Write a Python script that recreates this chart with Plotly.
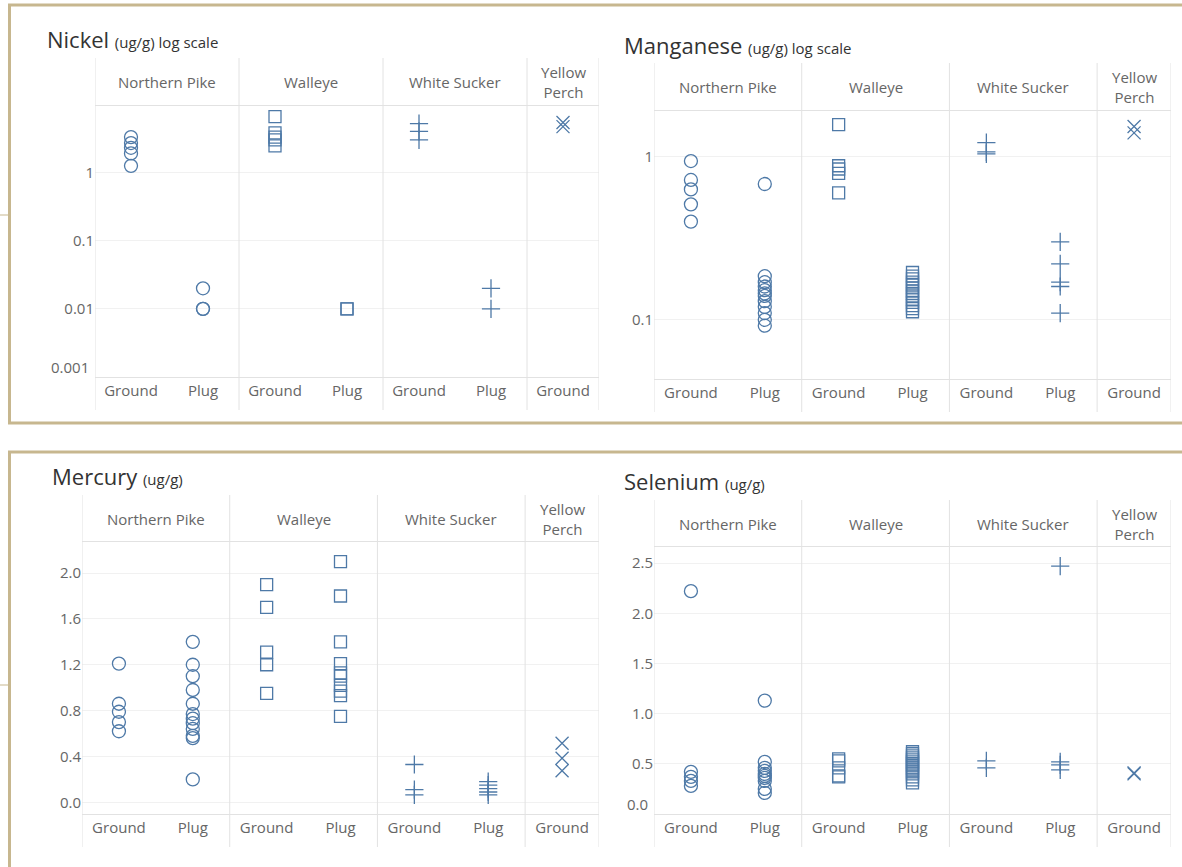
import plotly.graph_objects as go

W, H = 1182, 867

SPECIES = ["Northern Pike", "Walleye", "White Sucker", "Yellow<br>Perch"]
PREP = ["Ground", "Plug", "Ground", "Plug", "Ground", "Plug", "Ground"]

# Nickel (ug/g)
nickel_pike_ground = [3.3, 2.7, 2.3, 1.9, 1.25]
nickel_pike_plug = [0.02, 0.01, 0.01]
nickel_walleye_ground = [6.6, 3.8, 3.3, 3.0, 2.45]
nickel_walleye_plug = [0.01, 0.01]
nickel_sucker_ground = [5.2, 4.0, 3.0]
nickel_sucker_plug = [0.02, 0.01]
nickel_perch_ground = [5.4, 4.7]
nickel_ticks = [0.001, 0.01, 0.1, 1]
nickel_tick_text = ["0.001", "0.01", "0.1", "1"]

# Manganese (ug/g)
mn_pike_ground = [0.94, 0.72, 0.63, 0.51, 0.40]
mn_pike_plug = [0.68, 0.185, 0.17, 0.16, 0.152, 0.145, 0.14, 0.13, 0.12, 0.11, 0.10, 0.092]
mn_walleye_ground = [1.57, 0.88, 0.84, 0.79, 0.60]
mn_walleye_plug = [0.195, 0.185, 0.178, 0.17, 0.163, 0.157, 0.15, 0.145, 0.14,
                   0.134, 0.128, 0.122, 0.117, 0.112]
mn_sucker_ground = [1.22, 1.07, 1.04]
mn_sucker_plug = [0.30, 0.22, 0.17, 0.16, 0.11]
mn_perch_ground = [1.53, 1.40]
mn_ticks = [0.1, 1]
mn_tick_text = ["0.1", "1"]

# Mercury (ug/g)
hg_pike_ground = [1.21, 0.86, 0.79, 0.70, 0.62]
hg_pike_plug = [1.40, 1.20, 1.10, 0.98, 0.86, 0.77, 0.73, 0.69, 0.64, 0.58, 0.56, 0.20]
hg_walleye_ground = [1.90, 1.70, 1.31, 1.20, 0.95]
hg_walleye_plug = [2.10, 1.80, 1.40, 1.21, 1.13, 1.10, 1.02, 0.97, 0.93, 0.75]
hg_sucker_ground = [0.33, 0.11, 0.065]
hg_sucker_plug = [0.18, 0.15, 0.12, 0.09, 0.065]
hg_perch_ground = [0.515, 0.385, 0.275]
hg_ticks = [0.0, 0.4, 0.8, 1.2, 1.6, 2.0]
hg_tick_text = ["0.0", "0.4", "0.8", "1.2", "1.6", "2.0"]

# Selenium (ug/g)
se_pike_ground = [2.22, 0.42, 0.37, 0.33, 0.28]
se_pike_plug = [1.13, 0.52, 0.46, 0.43, 0.40, 0.38, 0.36, 0.33, 0.25, 0.21]
se_walleye_ground = [0.55, 0.53, 0.46, 0.38, 0.37]
se_walleye_plug = [0.62, 0.60, 0.58, 0.56, 0.54, 0.52, 0.50, 0.48, 0.46, 0.44,
                   0.42, 0.40, 0.37, 0.34, 0.31]
se_sucker_ground = [0.53, 0.46]
se_sucker_plug = [2.47, 0.52, 0.49, 0.44]
se_perch_ground = [0.41, 0.40]
se_ticks = [0.0, 0.5, 1.0, 1.5, 2.0, 2.5]
se_tick_text = ["0.0", "0.5", "1.0", "1.5", "2.0", "2.5"]

MARK = "#4e79a7"
GRID = "#f1f1f1"
RULE = "#e2e2e2"
FRAME = "#c7b78f"
FONT = "Open Sans"
SYMBOLS = ["circle-open", "square-open", "cross-thin-open", "x-thin-open"]


def fx(px):
    return px / W


def fy(py):
    return 1 - py / H


def columns(pike_g, pike_p, walleye_g, walleye_p, sucker_g, sucker_p, perch_g):
    # (column index, values, species index)
    return [(0, pike_g, 0), (1, pike_p, 0), (2, walleye_g, 1), (3, walleye_p, 1),
            (4, sucker_g, 2), (5, sucker_p, 2), (6, perch_g, 3)]


panels = [
    dict(name="Nickel", unit="(ug/g) log scale", log=True,
         cols=columns(nickel_pike_ground, nickel_pike_plug, nickel_walleye_ground,
                      nickel_walleye_plug, nickel_sucker_ground, nickel_sucker_plug,
                      nickel_perch_ground),
         left=95, right=599, top=106, bottom=377, head=58, foot=410,
         title=(45, 39), yrange=[-3.0, 0.975],
         ticks=nickel_ticks, tick_text=nickel_tick_text, lifted=0),
    dict(name="Manganese", unit="(ug/g) log scale", log=True,
         cols=columns(mn_pike_ground, mn_pike_plug, mn_walleye_ground, mn_walleye_plug,
                      mn_sucker_ground, mn_sucker_plug, mn_perch_ground),
         left=654, right=1171, top=111, bottom=379, head=63, foot=412,
         title=(622, 45), yrange=[-1.363, 0.28],
         ticks=mn_ticks, tick_text=mn_tick_text, lifted=None),
    dict(name="Mercury", unit="(ug/g)", log=False,
         cols=columns(hg_pike_ground, hg_pike_plug, hg_walleye_ground, hg_walleye_plug,
                      hg_sucker_ground, hg_sucker_plug, hg_perch_ground),
         left=82, right=599, top=542, bottom=814, head=495, foot=847,
         title=(50, 476), yrange=[-0.102, 2.271],
         ticks=hg_ticks, tick_text=hg_tick_text, lifted=None),
    dict(name="Selenium", unit="(ug/g)", log=False,
         cols=columns(se_pike_ground, se_pike_plug, se_walleye_ground, se_walleye_plug,
                      se_sucker_ground, se_sucker_plug, se_perch_ground),
         left=654, right=1171, top=547, bottom=814, head=500, foot=847,
         title=(622, 481), yrange=[0.0, 2.66],
         ticks=se_ticks, tick_text=se_tick_text, lifted=0),
]

fig = go.Figure()
shapes = []
annotations = []

# panel frames
shapes += [
    dict(type="rect", xref="paper", yref="paper", x0=fx(9.5), x1=fx(1200),
         y0=fy(5), y1=fy(423), line=dict(color=FRAME, width=3)),
    dict(type="rect", xref="paper", yref="paper", x0=fx(9.5), x1=fx(1200),
         y0=fy(452), y1=fy(900), line=dict(color=FRAME, width=3)),
    dict(type="line", xref="paper", yref="paper", x0=0, x1=fx(9), y0=fy(215), y1=fy(215),
         line=dict(color=FRAME, width=1)),
    dict(type="line", xref="paper", yref="paper", x0=0, x1=fx(9), y0=fy(685), y1=fy(685),
         line=dict(color=FRAME, width=1)),
]

for n, p in enumerate(panels, start=1):
    xa, ya = f"x{n}", f"y{n}"
    for col, vals, sp in p["cols"]:
        fig.add_trace(go.Scatter(
            x=[col] * len(vals), y=vals, mode="markers", xaxis=xa, yaxis=ya,
            showlegend=False, hoverinfo="y",
            marker=dict(symbol=SYMBOLS[sp], size=13 if sp != 1 else 12, color=MARK,
                        line=dict(color=MARK, width=1.3))))

    tick_text = list(p["tick_text"])
    if p["lifted"] is not None:
        tick_text[p["lifted"]] = ""
    key = "" if n == 1 else str(n)
    fig.layout["xaxis" + key] = dict(
        domain=[fx(p["left"]), fx(p["right"])], anchor=ya, range=[-0.5, 6.5],
        tickmode="array", tickvals=list(range(7)), ticktext=PREP,
        showgrid=False, zeroline=False, showline=True, mirror=True,
        linecolor=RULE, linewidth=1, ticks="", fixedrange=True,
        tickfont=dict(family=FONT, size=15, color="#666666"))
    fig.layout["yaxis" + key] = dict(
        domain=[fy(p["bottom"]), fy(p["top"])], anchor=xa,
        type="log" if p["log"] else "linear", range=p["yrange"],
        tickmode="array", tickvals=p["ticks"], ticktext=tick_text,
        showgrid=True, gridcolor=GRID, gridwidth=1, zeroline=False,
        showline=False, ticks="", fixedrange=True,
        tickfont=dict(family=FONT, size=15, color="#666666"))

    # bottom tick label nudged up so it clears the axis rule, as Tableau does
    if p["lifted"] is not None:
        v = p["ticks"][p["lifted"]]
        annotations.append(dict(
            xref="paper", yref=ya, x=fx(p["left"] - 4),
            y=(p["yrange"][0] if p["log"] else v),
            xanchor="right", yanchor="middle", yshift=10, showarrow=False,
            text=p["tick_text"][p["lifted"]],
            font=dict(family=FONT, size=15, color="#666666")))

    # species column dividers
    for xv in [-0.5, 1.5, 3.5, 5.5, 6.5]:
        shapes.append(dict(type="line", xref=xa, yref="paper", x0=xv, x1=xv,
                           y0=fy(p["foot"]), y1=fy(p["head"]),
                           line=dict(color=RULE, width=1)))

    # species headers
    for cx, sp in zip([0.5, 2.5, 4.5, 6], SPECIES):
        annotations.append(dict(
            xref=xa, yref="paper", x=cx, y=fy((p["head"] + p["top"]) / 2),
            xanchor="center", yanchor="middle", showarrow=False, text=sp,
            font=dict(family=FONT, size=15, color="#666666")))

    tx, ty = p["title"]
    annotations.append(dict(
        xref="paper", yref="paper", x=fx(tx), y=fy(ty), xanchor="left",
        yanchor="middle", showarrow=False, align="left",
        text=f"{p['name']} <span style='font-size:15px'>{p['unit']}</span>",
        font=dict(family=FONT, size=22, color="#333333")))

fig.update_layout(
    width=W, height=H, margin=dict(l=0, r=0, t=0, b=0),
    paper_bgcolor="white", plot_bgcolor="white",
    shapes=shapes, annotations=annotations, showlegend=False)

fig.write_html("out.html")
